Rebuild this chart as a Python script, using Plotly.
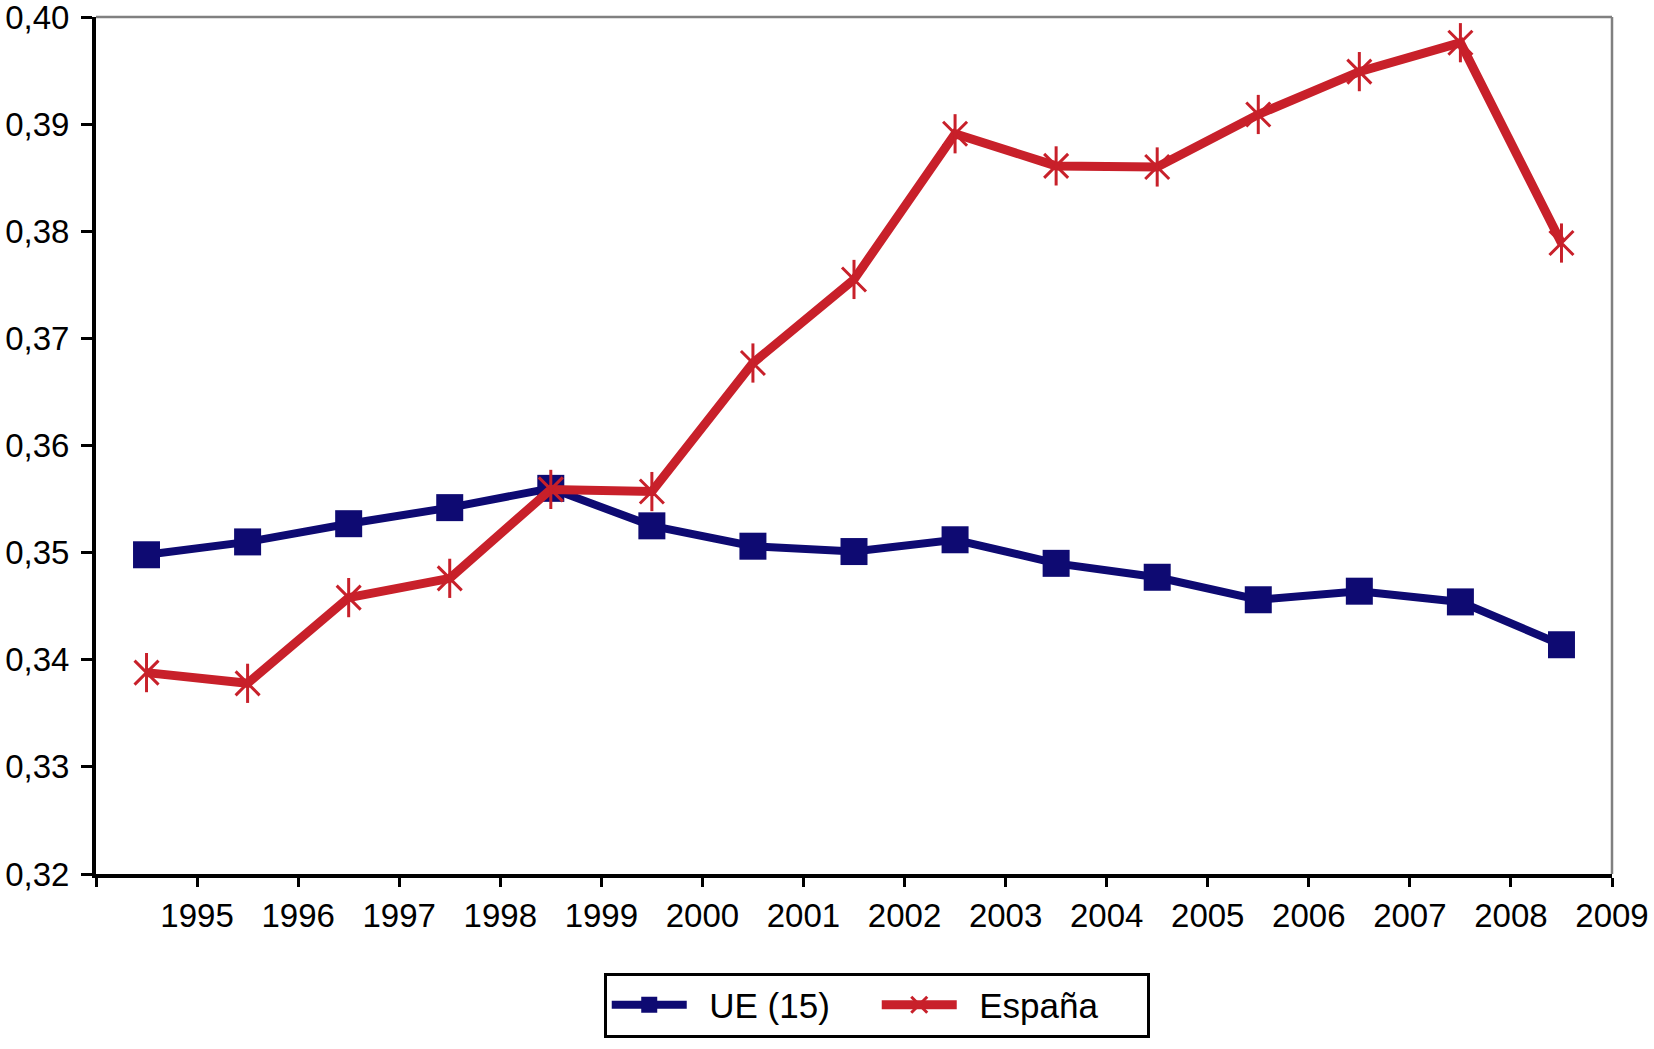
import plotly.graph_objects as go

years = ["1995", "1996", "1997", "1998", "1999", "2000", "2001", "2002",
         "2003", "2004", "2005", "2006", "2007", "2008", "2009"]
ue15 = [0.3498, 0.3510, 0.3527, 0.3542, 0.3560, 0.3525, 0.3506, 0.3501,
        0.3512, 0.3490, 0.3477, 0.3456, 0.3464, 0.3454, 0.3414]
espana = [0.3388, 0.3378, 0.3458, 0.3476, 0.3559, 0.3557, 0.3677, 0.3755,
          0.3891, 0.3861, 0.3860, 0.3909, 0.3949, 0.3976, 0.3789]
yticks = [0.32, 0.33, 0.34, 0.35, 0.36, 0.37, 0.38, 0.39, 0.40]
ytick_text = ["0,32", "0,33", "0,34", "0,35", "0,36", "0,37", "0,38", "0,39", "0,40"]

# points sit between tick marks (category centres)
xpos = [i + 0.5 for i in range(len(years))]

NAVY = "#0e0a72"
RED = "#c8202a"
FONT = "Liberation Sans, Arial, sans-serif"
FS = 33

fig = go.Figure()
fig.add_trace(go.Scatter(
    x=xpos, y=ue15, name="\u2002UE (15)", mode="lines+markers",
    line=dict(color=NAVY, width=8),
    marker=dict(symbol="square", size=27, color=NAVY),
))
fig.add_trace(go.Scatter(
    x=xpos, y=espana, name="\u2002España", mode="lines+markers",
    line=dict(color=RED, width=9),
    marker=dict(symbol="x-thin-open", size=24, color=RED,
                line=dict(color=RED, width=3)),
))
fig.add_trace(go.Scatter(
    x=xpos, y=espana, name="España", mode="markers", showlegend=False,
    marker=dict(symbol="line-ns-open", size=28, color=RED,
                line=dict(color=RED, width=3)),
    hoverinfo="skip",
))

fig.update_layout(
    width=1654, height=1049,
    margin=dict(l=96, r=42, t=17, b=171),
    paper_bgcolor="white", plot_bgcolor="white",
    font=dict(family=FONT, size=FS, color="black"),
    showlegend=True,
    legend=dict(
        orientation="h", x=0.515, xanchor="center", y=-0.115, yanchor="top",
        bordercolor="black", borderwidth=3, bgcolor="white",
        font=dict(family=FONT, size=35, color="black"),
        itemwidth=75, entrywidthmode="pixels", entrywidth=180,
    ),
)

fig.update_xaxes(
    range=[0, len(years)],
    tickmode="array",
    tickvals=list(range(len(years) + 1)),
    ticktext=[""] + years,
    ticks="outside", ticklen=9, tickwidth=3, tickcolor="black",
    showline=True, linecolor="black", linewidth=4,
    showgrid=False, zeroline=False, automargin=False,
    ticklabeloverflow="allow",
    tickfont=dict(family=FONT, size=FS, color="black"),
)
fig.update_yaxes(
    range=[0.32, 0.40], tickmode="array", tickvals=yticks, ticktext=ytick_text,
    ticks="outside", ticklen=11, tickwidth=3, tickcolor="black",
    showline=True, linecolor="black", linewidth=4,
    showgrid=False, zeroline=False, ticklabelstandoff=5, automargin=False,
    ticklabeloverflow="allow",
    tickfont=dict(family=FONT, size=33, color="black"),
)

# grey top and right frame
fig.add_shape(type="line", xref="paper", yref="paper", x0=0, x1=1, y0=1, y1=1,
              line=dict(color="#808080", width=2.5))
fig.add_shape(type="line", xref="paper", yref="paper", x0=1, x1=1, y0=0, y1=1,
              line=dict(color="#808080", width=2.5))

fig.write_html("out.html",
               config={"displayModeBar": False},
               post_script="document.body.style.margin='0px';"
                           "document.body.style.overflow='hidden';")
